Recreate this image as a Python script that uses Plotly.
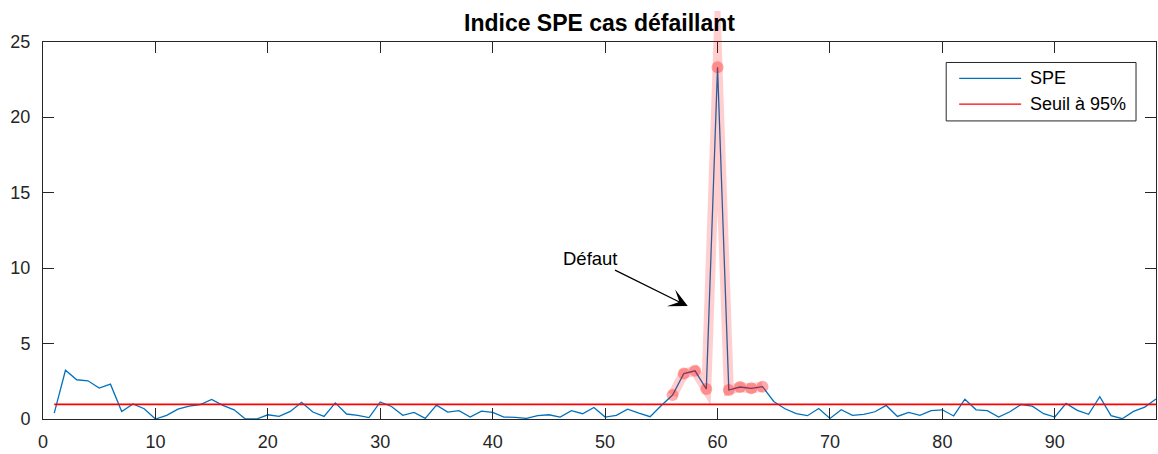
import plotly.graph_objects as go

# ---------------- data ----------------
sample_index = list(range(1, 100))
spe_values = [
    0.39, 3.23, 2.60, 2.53, 2.05, 2.31, 0.50, 1.00, 0.68, 0.00,
    0.24, 0.65, 0.85, 0.96, 1.29, 0.90, 0.61, 0.00, 0.00, 0.28,
    0.17, 0.50, 1.11, 0.46, 0.17, 1.07, 0.33, 0.24, 0.09, 1.13,
    0.83, 0.24, 0.44, 0.04, 0.92, 0.46, 0.55, 0.13, 0.52, 0.44,
    0.13, 0.11, 0.04, 0.22, 0.28, 0.13, 0.55, 0.35, 0.76, 0.13,
    0.24, 0.65, 0.39, 0.15, 0.90, 1.59, 3.01, 3.19, 1.99, 23.30,
    1.92, 2.12, 2.03, 2.14, 1.16, 0.68, 0.35, 0.22, 0.70, 0.04,
    0.61, 0.24, 0.31, 0.48, 0.90, 0.17, 0.44, 0.24, 0.55, 0.61,
    0.20, 1.31, 0.61, 0.55, 0.13, 0.48, 0.96, 0.85, 0.35, 0.13,
    1.03, 0.57, 0.31, 1.48, 0.22, 0.02, 0.50, 0.79, 1.33,
]
threshold_value = 0.97
fault_start, fault_end = 56, 64
x_ticks = [0, 10, 20, 30, 40, 50, 60, 70, 80, 90]
y_ticks = [0, 5, 10, 15, 20, 25]
x_range = [0, 99]
y_range = [0, 25]
title_text = "Indice SPE cas défaillant"
legend_labels = ["SPE", "Seuil à 95%"]
annotation_text = "Défaut"
arrow_target = (57.35, 7.48)

fault_x = [x for x in sample_index if fault_start <= x <= fault_end]
fault_y = [spe_values[sample_index.index(x)] for x in fault_x]
threshold_y = [threshold_value for _ in sample_index]

# ---------------- layout geometry (pixels) ----------------
W, H = 1158, 454
ML, MR, MT, MB = 43, 1, 7, 35
plot_left, plot_right = ML, W - MR
plot_top_paper, plot_bottom = MT, H - MB
axes_top = 38
dom_top = (plot_bottom - axes_top) / (plot_bottom - plot_top_paper)


def px(p):
    return (p - plot_left) / (plot_right - plot_left)


def py(p):
    return (plot_bottom - p) / (plot_bottom - plot_top_paper)


FONT = "Liberation Sans, Arial, Helvetica, sans-serif"
AX = "#262626"
BLUE = "#0072BD"
RED = "#FF0000"

fig = go.Figure()

fig.add_trace(go.Scatter(
    x=sample_index, y=spe_values, mode="lines",
    line=dict(color=BLUE, width=1.3), name=legend_labels[0],
    xaxis="x", yaxis="y", showlegend=False,
))
fig.add_trace(go.Scatter(
    x=sample_index, y=threshold_y, mode="lines",
    line=dict(color=RED, width=1.6), name=legend_labels[1],
    xaxis="x", yaxis="y", showlegend=False,
))
# highlight (brushed) band on an overlay subplot that reaches above the axes
fig.add_trace(go.Scatter(
    x=fault_x, y=fault_y, mode="lines+markers",
    line=dict(color="rgba(255,0,0,0.19)", width=10),
    marker=dict(color="rgba(255,0,0,0.33)", size=12),
    xaxis="x2", yaxis="y2", showlegend=False, hoverinfo="skip",
))

axis_common = dict(
    showline=True, linecolor=AX, linewidth=1, mirror="ticks",
    ticks="inside", ticklen=11, tickwidth=1, tickcolor=AX,
    showgrid=False, zeroline=False,
    tickfont=dict(family=FONT, size=18, color=AX),
)

fig.update_layout(
    width=W, height=H,
    margin=dict(l=ML, r=MR, t=MT, b=MB, pad=0),
    paper_bgcolor="white", plot_bgcolor="rgba(0,0,0,0)",
    showlegend=False,
    xaxis=dict(range=x_range, tickvals=x_ticks, domain=[0, 1], anchor="y",
               ticklabelstandoff=6, **axis_common),
    yaxis=dict(range=y_range, tickvals=y_ticks, domain=[0, dom_top], anchor="x",
               ticklabelstandoff=8, **axis_common),
    xaxis2=dict(range=x_range, domain=[0, 1], anchor="y2", visible=False),
    yaxis2=dict(range=[y_range[0], y_range[1] / dom_top], domain=[0, 1],
                anchor="x2", visible=False),
    title=dict(text="<b>" + title_text + "</b>", x=0.5, xref="paper",
               y=py(19), yref="paper", xanchor="center", yanchor="middle",
               font=dict(family=FONT, size=23, color="black")),
)

# annotation with arrow
fig.add_annotation(
    x=arrow_target[0], y=arrow_target[1], xref="x", yref="y",
    text=annotation_text, showarrow=True,
    ax=-97, ay=-48, axref="pixel", ayref="pixel",
    arrowhead=3, arrowsize=2.4, arrowwidth=1.3, arrowcolor="black",
    font=dict(family=FONT, size=18.5, color="black"),
)

# custom legend box
fig.add_shape(type="rect", xref="paper", yref="paper",
              x0=px(947), x1=px(1137), y0=py(118), y1=py(59),
              line=dict(color=AX, width=1), fillcolor="white", layer="above")
for label, color, yy in [(legend_labels[0], BLUE, 75), (legend_labels[1], RED, 101)]:
    fig.add_shape(type="line", xref="paper", yref="paper",
                  x0=px(960), x1=px(1022), y0=py(yy), y1=py(yy),
                  line=dict(color=color, width=1.3), layer="above")
    fig.add_annotation(x=px(1029), y=py(yy), xref="paper", yref="paper",
                       text=label, showarrow=False, xanchor="left",
                       yanchor="middle",
                       font=dict(family=FONT, size=18, color="black"))

post = """
var gd = document.getElementById('{plot_id}');
gd.querySelectorAll('path.js-line').forEach(function(p){
  if (parseFloat(p.style.strokeWidth) > 5) {
    p.style.strokeLinejoin = 'miter';
    p.style.strokeMiterlimit = '40';
  }
});
"""

fig.write_html("out.html", config={"displayModeBar": False}, post_script=post)
